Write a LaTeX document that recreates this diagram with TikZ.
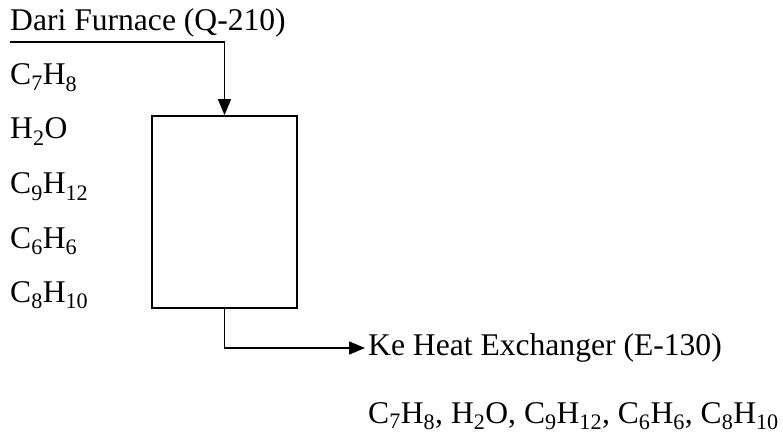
\documentclass[tikz,border=0pt]{standalone}
\usepackage{fontspec}
\setmainfont{Liberation Serif}
\usetikzlibrary{arrows.meta,positioning}
\newcommand{\ix}[1]{\textsubscript{#1}}

\begin{document}
\begin{tikzpicture}[x=1pt,y=-1pt,
  lbl/.style={inner sep=0pt,anchor=base west,font=\fontsize{31.6}{38}\selectfont},
  flow/.style={line width=1.5pt,-{Triangle[length=16pt,width=13pt]}}]
  \useasboundingbox (0,0) rectangle (783,446);
  % Feed from furnace
  \node[lbl] (furnace) at (10,31) {Dari Furnace (Q-210)};
  \coordinate (feed) at (10,42);
  % Reactor box
  \node[draw,line width=1.7pt,minimum width=145pt,minimum height=192pt,inner sep=0pt] (box) at (224.5,212) {};
  \draw[flow] (feed) -| (box.north);
  % Components
  \foreach \y/\txt [count=\i] in {85/C\ix{7}H\ix{8},139/H\ix{2}O,194/C\ix{9}H\ix{12},248/C\ix{6}H\ix{6},302/C\ix{8}H\ix{10}}{
    \node[lbl] (comp\i) at (10,\y) {\txt};
  }
  % Outlet
  \node[lbl,anchor=west] (ke) at (368,348) {Ke Heat Exchanger (E-130)};
  \draw[flow] (box.south) |- ([xshift=-3pt]ke.west);
  \node[lbl,anchor=base east] (outcomp) at (779,423) {C\ix{7}H\ix{8}, H\ix{2}O, C\ix{9}H\ix{12}, C\ix{6}H\ix{6}, C\ix{8}H\ix{10}};
\end{tikzpicture}
\end{document}
